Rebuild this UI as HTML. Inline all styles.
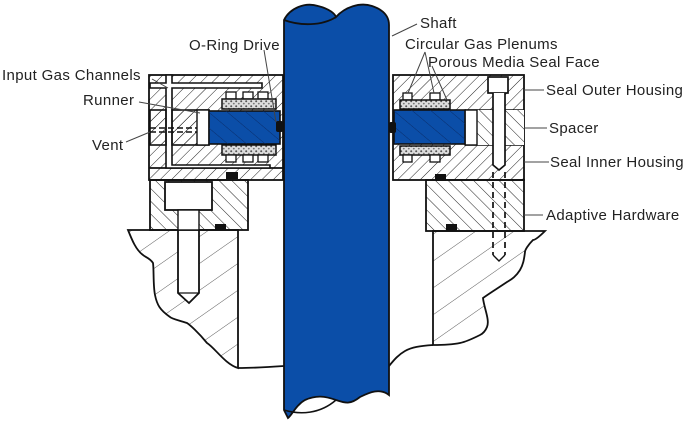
<!DOCTYPE html>
<html><head><meta charset="utf-8"><style>
html,body{margin:0;padding:0;background:#fff;}
svg{display:block;}
text{font-family:"Liberation Sans",sans-serif;font-size:15px;letter-spacing:0.35px;fill:#222;}
</style></head><body>
<svg width="689" height="421" viewBox="0 0 689 421" xmlns="http://www.w3.org/2000/svg">
<defs>
<pattern id="hb" width="8" height="8" patternUnits="userSpaceOnUse" patternTransform="rotate(45)"><line x1="0" y1="0" x2="0" y2="8" stroke="#222" stroke-width="1"/></pattern>
<pattern id="hf" width="9" height="9" patternUnits="userSpaceOnUse" patternTransform="rotate(-45)"><line x1="0" y1="0" x2="0" y2="9" stroke="#222" stroke-width="1"/></pattern>
<pattern id="hw" width="22" height="22" patternUnits="userSpaceOnUse" patternTransform="rotate(55)"><line x1="0" y1="0" x2="0" y2="22" stroke="#333" stroke-width="0.8"/></pattern>
<pattern id="hbl" width="12" height="12" patternUnits="userSpaceOnUse" patternTransform="rotate(-50)"><line x1="0" y1="0" x2="0" y2="12" stroke="#082a66" stroke-width="0.9"/></pattern>
<pattern id="por" width="5" height="5" patternUnits="userSpaceOnUse"><rect width="5" height="5" fill="#ddd"/><circle cx="1.2" cy="1.3" r="1" fill="#555"/><circle cx="3.8" cy="3.6" r="0.9" fill="#777"/></pattern>
</defs>

<!-- base blocks -->
<path d="M128,230 L238,230 L238,368 C225,364 215,348 207,343 C198,332 190,325 187,323 C178,320 172,319 170,317 C160,310 157,305 155,295 C153,285 154,270 153,263 C150,258 145,257 143,255 C136,250 132,240 128,230 Z" fill="url(#hw)" stroke="#111" stroke-width="1.8"/>
<path d="M238,368 C255,368 270,367 284,366" fill="none" stroke="#111" stroke-width="1.8"/>
<path d="M433,231 L545,231 C540,236 535,240 533,240 C528,245 525,250 525,252 C524,260 523,265 520,270 C515,278 510,280 507,282 C495,290 490,293 483,298 C484,308 490,320 487,327 C485,332 482,334 480,335 C470,340 465,342 460,343 C450,345 440,345 433,345 Z" fill="url(#hw)" stroke="#111" stroke-width="1.8"/>
<path d="M433,345 C420,346 412,347 405,351 C398,355 394,360 389,366" fill="none" stroke="#111" stroke-width="1.8"/>

<!-- left bolt in base -->
<path d="M178,230 L178,293 L189,303 L199,293 L199,230" fill="#fff" stroke="#111" stroke-width="1.8"/>
<line x1="178" y1="293" x2="199" y2="293" stroke="#111" stroke-width="1.2"/>

<!-- adaptive hardware -->
<rect x="150" y="180" width="98" height="50" fill="url(#hf)" stroke="#111" stroke-width="1.8"/>
<rect x="165" y="182" width="47" height="28" fill="#fff" stroke="#111" stroke-width="1.8"/>
<rect x="178" y="210" width="21" height="20" fill="#fff" stroke="#111" stroke-width="1.4"/>
<rect x="426" y="180" width="98" height="51" fill="url(#hf)" stroke="#111" stroke-width="1.8"/>

<!-- left housing -->
<rect x="149" y="75" width="134" height="105" fill="url(#hb)" stroke="#111" stroke-width="1.8"/>
<line x1="149" y1="168" x2="283" y2="168" stroke="#111" stroke-width="1.8"/>
<path d="M150,83 L166,83 L166,75 L172,75 L172,83 L262,83 L262,88 L172,88 L172,165 L270,165 L270,168 L166,168 L166,88 L150,88 Z" fill="#fff" stroke="#111" stroke-width="1.6"/>
<rect x="150" y="110" width="16" height="35" fill="url(#hb)" stroke="#111" stroke-width="1.6"/>
<rect x="172" y="110" width="37" height="35" fill="url(#hb)" stroke="#111" stroke-width="1.6"/>
<rect x="197" y="110" width="12" height="35" fill="#fff" stroke="#111" stroke-width="1.4"/>
<g stroke="#111" stroke-width="1.4" stroke-dasharray="6,3">
<line x1="150" y1="128" x2="197" y2="128"/><line x1="150" y1="132" x2="197" y2="132"/></g>
<rect x="226" y="92" width="10" height="7" fill="#fff" stroke="#111" stroke-width="1.3"/><rect x="243" y="92" width="10" height="7" fill="#fff" stroke="#111" stroke-width="1.3"/><rect x="258" y="92" width="10" height="7" fill="#fff" stroke="#111" stroke-width="1.3"/>
<rect x="222" y="99" width="54" height="10" fill="url(#por)" stroke="#111" stroke-width="1.5"/>
<rect x="222" y="145" width="54" height="10" fill="url(#por)" stroke="#111" stroke-width="1.5"/>
<rect x="226" y="155" width="10" height="7" fill="#fff" stroke="#111" stroke-width="1.3"/><rect x="243" y="155" width="10" height="7" fill="#fff" stroke="#111" stroke-width="1.3"/><rect x="258" y="155" width="10" height="7" fill="#fff" stroke="#111" stroke-width="1.3"/>
<rect x="209" y="111" width="71" height="33" fill="#0b4ea8" stroke="#111" stroke-width="1.6"/>
<rect x="209" y="111" width="71" height="33" fill="url(#hbl)"/>
<rect x="276" y="121" width="7" height="11" rx="2" fill="#111"/>
<rect x="226" y="172" width="12" height="7" fill="#111"/>
<rect x="215" y="224" width="11" height="6" fill="#111"/>

<!-- right housing -->
<rect x="393" y="75" width="131" height="105" fill="url(#hb)" stroke="#111" stroke-width="1.8"/>
<line x1="465" y1="110" x2="524" y2="110" stroke="#111" stroke-width="1.6"/>
<line x1="465" y1="145" x2="524" y2="145" stroke="#111" stroke-width="1.6"/>
<rect x="477" y="110" width="47" height="35" fill="#fff"/>
<rect x="477" y="110" width="47" height="35" fill="url(#hf)"/>
<rect x="465" y="110" width="12" height="35" fill="#fff" stroke="#111" stroke-width="1.4"/>
<rect x="403" y="93" width="9" height="7" fill="#fff" stroke="#111" stroke-width="1.3"/><rect x="430" y="93" width="10" height="7" fill="#fff" stroke="#111" stroke-width="1.3"/>
<rect x="400" y="100" width="50" height="9" fill="url(#por)" stroke="#111" stroke-width="1.5"/>
<rect x="400" y="146" width="50" height="9" fill="url(#por)" stroke="#111" stroke-width="1.5"/>
<rect x="403" y="155" width="9" height="7" fill="#fff" stroke="#111" stroke-width="1.3"/><rect x="430" y="155" width="10" height="7" fill="#fff" stroke="#111" stroke-width="1.3"/>
<rect x="394" y="110" width="71" height="34" fill="#0b4ea8" stroke="#111" stroke-width="1.6"/>
<rect x="394" y="110" width="71" height="34" fill="url(#hbl)"/>
<rect x="389" y="122" width="7" height="11" rx="2" fill="#111"/>
<rect x="435" y="174" width="11" height="7" fill="#111"/>
<rect x="446" y="224" width="11" height="7" fill="#111"/>
<rect x="488" y="77" width="20" height="16" fill="#fff" stroke="#111" stroke-width="1.7"/>
<path d="M493,93 L493,165 L499,170 L505,165 L505,93" fill="#fff" stroke="#111" stroke-width="1.7"/>
<g stroke="#111" stroke-width="1.7" stroke-dasharray="6,4" fill="none">
<line x1="493" y1="172" x2="493" y2="255"/><line x1="505" y1="172" x2="505" y2="255"/></g>
<path d="M493,255 L499,261 L505,255" fill="none" stroke="#111" stroke-width="1.4"/>

<!-- shaft -->
<path d="M284,20 C290,8 305,2 318,6 C330,9 335,14 336,17 C345,7 360,2 372,6 C384,10 389,17 389,25 L389,395 C380,388 370,392 360,397 C350,405 345,403 336,400 C325,396 316,395 305,400 C296,405 292,415 288,418 L284,410 Z" fill="#0b4ea8" stroke="#111" stroke-width="1.8"/>
<path d="M284,20 C300,26 322,26 336,17" fill="none" stroke="#111" stroke-width="1.8"/>
<path d="M284,410 C300,415 320,414 336,400" fill="none" stroke="#111" stroke-width="1.5"/>

<!-- leaders -->
<g stroke="#444" stroke-width="1" fill="none">
<line x1="152" y1="79" x2="168" y2="88"/>
<line x1="139" y1="102" x2="200" y2="113"/>
<line x1="126" y1="142" x2="150" y2="132"/>
<line x1="264" y1="50" x2="276" y2="122"/>
<line x1="392" y1="36" x2="417" y2="24"/>
<line x1="425" y1="52" x2="408" y2="93"/><line x1="425" y1="52" x2="434" y2="93"/>
<line x1="432" y1="66" x2="447" y2="100"/>
<line x1="524" y1="90" x2="544" y2="90"/>
<line x1="524" y1="128" x2="547" y2="128"/>
<line x1="524" y1="162" x2="549" y2="162"/>
<line x1="524" y1="215" x2="543" y2="215"/>
</g>
<text x="2" y="80">Input Gas Channels</text>
<text x="83" y="105">Runner</text>
<text x="92" y="150">Vent</text>
<text x="189" y="50">O-Ring Drive</text>
<text x="420" y="28">Shaft</text>
<text x="405" y="49">Circular Gas Plenums</text>
<text x="428" y="67">Porous Media Seal Face</text>
<text x="546" y="95">Seal Outer Housing</text>
<text x="549" y="133">Spacer</text>
<text x="550" y="167">Seal Inner Housing</text>
<text x="546" y="220">Adaptive Hardware</text>
</svg>
</body></html>
